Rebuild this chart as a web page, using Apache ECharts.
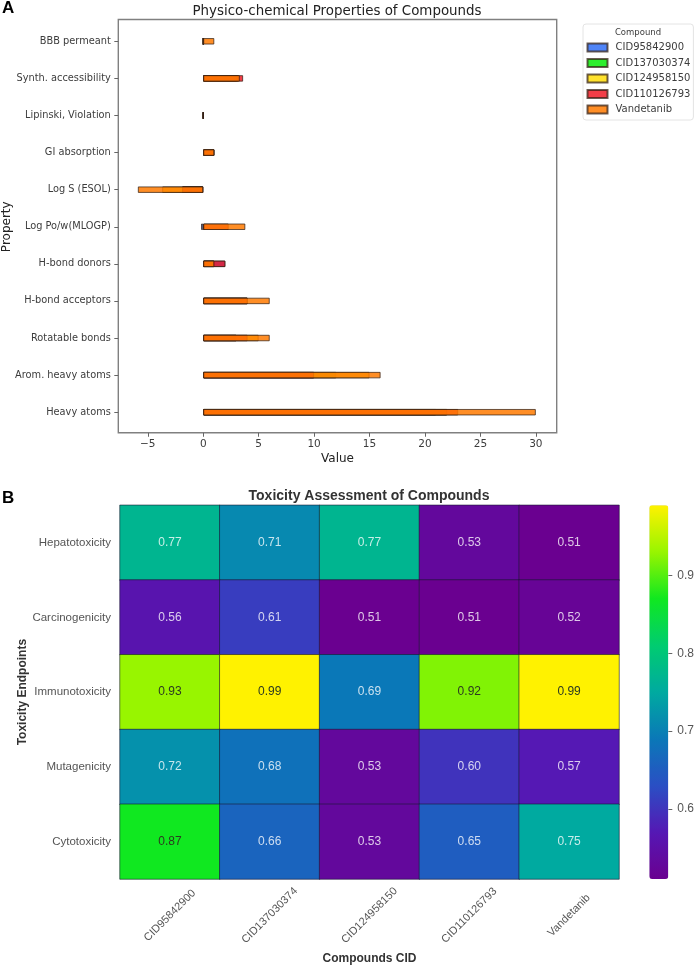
<!DOCTYPE html>
<html><head><meta charset="utf-8">
<style>html,body{margin:0;padding:0;background:#fff}#c{width:699px;height:968px}</style>
<script src="https://cdn.jsdelivr.net/npm/echarts@6/dist/echarts.min.js"></script>
</head><body><div id="c"></div>
<script>
const properties = ["BBB permeant","Synth. accessibility","Lipinski, Violation","GI absorption","Log S (ESOL)","Log Po/w(MLOGP)","H-bond donors","H-bond acceptors","Rotatable bonds","Arom. heavy atoms","Heavy atoms"];
const compounds = ["CID95842900","CID137030374","CID124958150","CID110126793","Vandetanib"];
const cid95842900  = [0, 3.0, 0, 1, -1.9, -0.2, 2, 4, 3, 10, 21];
const cid137030374 = [0, 3.2, 0, 1, -1.9, 0.1, 1, 4, 3, 12, 22];
const cid124958150 = [0, 3.1, 0, 1, -3.7, 0.1, 1, 4, 5, 15, 22];
const cid110126793 = [0, 3.6, 0, 1, -1.9, 2.3, 2, 4, 4, 10, 23];
const vandetanib   = [1, 3.3, 0, 1, -5.9, 3.8, 1, 6, 6, 16, 30];
const barValues = [cid95842900, cid137030374, cid124958150, cid110126793, vandetanib];
const barFill = ["rgba(40,105,245,0.82)","rgba(0,235,0,0.82)","rgba(255,220,0,0.82)","rgba(240,20,30,0.82)","rgba(255,122,0,0.85)"];
const valueTicks = [-5,0,5,10,15,20,25,30];

const endpoints = ["Hepatotoxicity","Carcinogenicity","Immunotoxicity","Mutagenicity","Cytotoxicity"];
const hepatotoxicity  = [0.77,0.71,0.77,0.53,0.51];
const carcinogenicity = [0.56,0.61,0.51,0.51,0.52];
const immunotoxicity  = [0.93,0.99,0.69,0.92,0.99];
const mutagenicity    = [0.72,0.68,0.53,0.60,0.57];
const cytotoxicity    = [0.87,0.66,0.53,0.65,0.75];
const toxRows = [hepatotoxicity,carcinogenicity,immunotoxicity,mutagenicity,cytotoxicity];
const colorbarTicks = [0.6,0.7,0.8,0.9];
const colormap = ["#6a0090","#5518b4","#2a4fc4","#0a78b8","#00aaa0","#00cc70","#10e820","#98f500","#fff200"];

const DJ = "DejaVu Sans", LB = "Liberation Sans", TXT = "#3c3c3c";
const heatData = [];
toxRows.forEach((row,r)=>row.forEach((v,c)=>heatData.push({
  value:[c,r,v],
  label:{color: v>=0.85 ? "#2c3a20" : "rgba(255,255,255,0.78)"}
})));

const hiddenAxis = {show:false};
const clearLine = {show:true,onZero:false,lineStyle:{color:"rgba(0,0,0,0)"}};
const option = {
  backgroundColor:"#fff",
  animation:false,
  title:[
    {text:"Physico-chemical Properties of Compounds",left:337,top:5,padding:0,textAlign:"center",textStyle:{fontFamily:DJ,fontSize:13.4,fontWeight:"normal",color:"#222"}},
    {text:"Compound",left:638,top:28.5,padding:0,textAlign:"center",textStyle:{fontFamily:DJ,fontSize:8.5,fontWeight:"normal",color:TXT}},
    {text:"A",left:2,top:0,padding:0,textStyle:{fontFamily:LB,fontSize:17,fontWeight:"bold",color:"#000"}},
    {text:"B",left:2,top:490,padding:0,textStyle:{fontFamily:LB,fontSize:17,fontWeight:"bold",color:"#000"}},
    {text:"Toxicity Assessment of Compounds",left:369,top:489,padding:0,textAlign:"center",textStyle:{fontFamily:LB,fontSize:14,fontWeight:"bold",color:"#333"}}
  ],
  legend:{
    orient:"vertical",left:583,top:24,icon:"rect",
    padding:[18.5,3,5.5,3.5],itemWidth:20,itemHeight:8,itemGap:5.5,
    backgroundColor:"#fff",borderColor:"#e4e4e4",borderWidth:1,borderRadius:3,
    textStyle:{fontFamily:DJ,fontSize:10,color:TXT,padding:[0,0,0,3]},
    data:compounds
  },
  grid:[
    {left:118.3,top:22.75,width:438.4,height:408,outerBoundsMode:"none"},
    {left:118.3,top:19.5,width:438.4,height:413.2,show:true,borderColor:"#808080",borderWidth:1.4,backgroundColor:"transparent",outerBoundsMode:"none"},
    {left:120,top:505.3,width:499,height:373.7,outerBoundsMode:"none"},
    {left:649.3,top:505.3,width:19,height:373.7,outerBoundsMode:"none"}
  ],
  xAxis:[
    {type:"value",gridIndex:0,min:-7.66,max:31.88,offset:2,position:"bottom",splitLine:{show:false},
      axisLine:clearLine,
      axisTick:{show:true,length:4,lineStyle:{color:"#666"},customValues:valueTicks},
      axisLabel:{fontFamily:DJ,fontSize:10.5,color:TXT,margin:6,customValues:valueTicks,formatter:v=>String(v).replace("-","\u2212")},
      name:"Value",nameLocation:"middle",nameGap:20,nameMoveOverlap:false,nameTextStyle:{fontFamily:DJ,fontSize:12,color:"#222"}},
    Object.assign({type:"value",gridIndex:1,min:0,max:1},hiddenAxis),
    {type:"category",gridIndex:2,data:compounds,position:"bottom",
      axisLine:{show:false},axisTick:{show:false},splitLine:{show:false},
      axisLabel:{interval:0,rotate:45,align:"center",verticalAlign:"middle",margin:36.5,fontFamily:LB,fontSize:11,color:"#555",hideOverlap:false},
      name:"Compounds CID",nameLocation:"middle",nameGap:74,nameMoveOverlap:false,nameTextStyle:{fontFamily:LB,fontSize:12,fontWeight:"bold",color:"#333"}},
    Object.assign({type:"value",gridIndex:3,min:0,max:1},hiddenAxis)
  ],
  yAxis:[
    {type:"category",gridIndex:0,data:properties,inverse:true,
      axisLine:{show:false,onZero:false},
      axisTick:{show:true,alignWithLabel:true,length:4,lineStyle:{color:"#666"}},
      axisLabel:{interval:0,fontFamily:DJ,fontSize:9.8,color:TXT,margin:7.5},
      name:"Property",nameLocation:"middle",nameGap:105,nameMoveOverlap:false,nameTextStyle:{fontFamily:DJ,fontSize:12,color:"#222"}},
    Object.assign({type:"value",gridIndex:1,min:0,max:1},hiddenAxis),
    {type:"category",gridIndex:2,data:endpoints,inverse:true,
      axisLine:{show:false,onZero:false},axisTick:{show:false},splitLine:{show:false},
      axisLabel:{interval:0,fontFamily:LB,fontSize:11.5,color:"#555",margin:9},
      name:"Toxicity Endpoints",nameLocation:"middle",nameGap:91,nameMoveOverlap:false,nameTextStyle:{fontFamily:LB,fontSize:12,fontWeight:"bold",color:"#333"}},
    {type:"value",gridIndex:3,position:"right",min:0.51,max:0.99,splitLine:{show:false},
      axisLine:clearLine,
      axisTick:{show:true,length:4,lineStyle:{color:"#666"},customValues:colorbarTicks},
      axisLabel:{fontFamily:LB,fontSize:12,color:"#555",margin:9,customValues:colorbarTicks,formatter:v=>v.toFixed(1)}}
  ],
  visualMap:{
    type:"continuous",min:0.51,max:0.99,seriesIndex:5,left:649.3,top:505.3,
    itemWidth:19,itemHeight:373.7,padding:0,calculable:false,showLabel:false,text:null,
    inRange:{color:colormap},textStyle:{fontSize:0}
  },
  series:[
    ...compounds.map((name,i)=>({
      name,type:"bar",xAxisIndex:0,yAxisIndex:0,data:barValues[i],
      barWidth:6.5,barGap:"-100%",
      itemStyle:{color:barFill[i],borderColor:"rgba(50,30,20,0.72)",borderWidth:1}
    })),
    {type:"heatmap",xAxisIndex:2,yAxisIndex:2,data:heatData,
      label:{show:true,fontFamily:LB,fontSize:12,formatter:p=>p.value[2].toFixed(2)},
      itemStyle:{borderColor:"rgba(25,25,50,0.75)",borderWidth:0.8}}
  ]
};
const chart = echarts.init(document.getElementById("c"),null,{renderer:"canvas"});
chart.setOption(option);
</script></body></html>
